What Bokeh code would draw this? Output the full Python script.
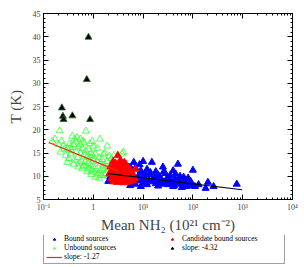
from bokeh.plotting import figure
from bokeh.layouts import column
from bokeh.models import (LinearAxis, LogAxis, FixedTicker, SingleIntervalTicker,
                          CustomJSTickFormatter, Legend, LegendItem)
from bokeh.embed import file_html
from bokeh.resources import INLINE

# ---------------- data ----------------
unbound_x = [0.15,0.17,0.21,0.71,1.37,0.38,0.42,0.47,0.55,0.62,
             0.25,0.3,0.33,0.36,0.4,0.45,0.5,0.55,0.6,0.65,
             0.7,0.75,0.8,0.85,0.9,0.95,1.0,1.1,1.2,1.3,
             1.4,1.5,1.6,1.7,1.8,1.9,2.0,2.2,2.4,2.6,
             2.8,3.0,3.3,3.6,4.0,3.8,1.9,2.1,0.28,0.32,
             0.35,0.42,0.48,0.52,0.58,0.63,0.68,0.72,0.78,0.83,
             0.88,0.93,1.0,1.05,1.15,1.25,1.35,1.45,1.3,1.1,
             0.9,0.75,0.6,0.5,0.4,0.3,0.22,0.26,0.2,0.23,
             1.0,1.2,0.85,0.95,1.6,2.3,2.6,2.0,2.5,3.2,
             0.65,0.55,0.45,0.35,1.8,1.55,1.7]
unbound_t = [17.5,18.0,19.8,19.7,18.0,18.6,18.0,18.3,18.0,17.6,
             16.5,16.0,17.0,15.5,16.8,15.2,16.3,15.0,16.0,14.6,
             15.5,14.2,15.8,13.9,15.0,14.5,13.5,14.8,13.2,14.0,
             12.8,13.6,12.4,15.0,12.0,13.2,11.6,12.5,11.2,12.0,
             10.8,11.5,10.5,11.8,15.2,14.8,16.5,14.3,14.5,13.8,
             14.8,13.5,14.0,12.8,13.2,12.3,13.0,12.0,12.8,11.6,
             12.4,11.2,12.0,10.9,11.5,10.5,11.2,10.2,9.6,9.8,
             10.4,11.0,11.6,12.0,12.6,13.0,15.2,15.8,16.8,17.6,
             16.5,16.0,17.0,17.5,14.8,13.8,14.5,10.0,9.9,9.6,
             17.2,16.8,17.4,16.2,10.6,11.6,10.3]

cand_x = [3.1,2.5,4.2,3.5,2.8,3.3,3.8,4.5,5.0,2.2,
          2.6,3.0,3.4,3.9,4.4,4.9,5.5,6.0,7.0,6.5,
          2.1,2.4,2.7,3.0,3.2,3.6,4.0,4.3,4.8,5.3,
          5.8,2.3,2.6,2.9,3.3,3.7,4.1,4.6,5.1,5.6,
          2.5,3.0,3.5,4.0,4.7,5.4,6.2,2.8,3.8,4.2,
          3.1,3.4,2.2,5.0,6.8]
cand_t = [14.5,13.2,13.0,13.5,12.8,12.5,12.2,12.6,12.0,12.0,
          11.8,11.5,11.8,11.3,11.5,11.0,11.3,10.8,11.5,10.0,
          10.5,11.0,10.5,10.0,10.8,10.3,10.7,9.8,10.2,9.6,
          10.0,9.5,9.2,9.6,9.2,9.5,9.0,9.4,9.0,9.3,
          8.8,8.7,8.8,8.6,8.7,8.8,9.0,10.0,11.0,10.0,
          9.9,9.5,10.8,10.5,9.5]

bound_x = [2.0,2.2,3.5,4.0,6.5,8.5,10,15,25,50,
           100,7,9,12,18,5.5,11,14,20,28,
           35,45,55,65,80,30,22,16,13,9.5,
           8,7.5,6.5,10,12,15,18,21,25,28,
           32,38,42,48,52,58,62,70,75,85,
           90,95,60,40,20,9,7,5.5,200,260,
           180,760,110,130,8.5,11,17,24,33,44,
           5,6,13,26,40,9,19,36,55,70]
bound_t = [8.9,9.9,13.0,12.5,13.0,12.5,13.2,13.0,12.0,12.6,
           11.3,11.8,11.2,11.5,11.0,12.0,10.5,10.8,10.3,10.6,
           10.2,10.5,10.0,9.8,9.6,9.5,9.8,9.5,9.2,9.6,
           10.0,9.2,8.8,8.5,8.2,8.8,8.4,8.9,8.3,8.6,
           8.2,8.7,8.0,8.5,9.0,8.3,8.6,8.2,7.8,8.5,
           8.9,8.0,7.6,7.8,7.9,7.8,8.3,8.0,8.7,7.8,
           7.4,8.3,7.8,8.2,9.0,9.3,9.9,9.1,9.3,9.4,
           9.3,9.9,10.3,11.0,11.2,10.8,8.6,8.9,8.6,9.2]

warm_x = [0.8, 0.74, 0.234, 0.245, 0.253, 0.38, 0.86]
warm_t = [39.9, 30.8, 24.7, 22.9, 22.2, 23.0, 22.2]

fit1_x = [0.128, 3.2]
fit1_t = [17.25, 11.1]
fit2_x = [1.98, 975]
fit2_t = [10.55, 7.1]

x_ticks = [0.1, 1, 10, 100, 1000, 10000]

labels = ["Bound sources", "Unbound sources", "slope: -1.27",
          "Candidate bound sources", "slope: -4.32"]

SERIF = "Liberation Serif"

BLUE = "#0000ff"
RED = "#ff0000"
GREEN = "#33ff33"

p = figure(frame_width=249, frame_height=186, x_axis_type="log", x_range=(0.1, 10000), y_range=(5, 45),
           output_backend="svg", toolbar_location=None,
           min_border_left=43, min_border_right=12, min_border_top=13, min_border_bottom=0)
p.grid.visible = False
p.outline_line_color = "black"
p.outline_line_width = 1

minor = [m * 10.0 ** e for e in range(-1, 4) for m in range(2, 10)]


def style_axis(ax, labels=True):
    ax.major_tick_in = 5
    ax.major_tick_out = 0
    ax.minor_tick_in = 2
    ax.minor_tick_out = 0
    ax.axis_line_color = "black"
    ax.major_tick_line_color = "black"
    ax.minor_tick_line_color = "black"
    ax.major_label_text_font = SERIF
    ax.major_label_text_font_size = "8px"
    ax.major_label_standoff = 3
    if not labels:
        ax.major_label_text_alpha = 0
        ax.major_label_text_font_size = "1px"
        ax.major_label_standoff = 0


fmt = CustomJSTickFormatter(code="""
const e = Math.round(Math.log10(tick));
const sup = {'-1':'\u207b\u00b9','1':'\u00b9','2':'\u00b2','3':'\u00b3','4':'\u2074'};
if (e === 0) return '1';
return '10' + sup[String(e)];
""")

xa = p.xaxis[0]
xa.ticker = FixedTicker(ticks=x_ticks, minor_ticks=minor)
xa.formatter = fmt
style_axis(xa)
xa.axis_label = "Mean NH\u2082 (10\u00b2\u00b9 cm\u207b\u00b2)"
xa.axis_label_text_font = SERIF
xa.axis_label_text_font_size = "15px"
xa.axis_label_text_font_style = "normal"
xa.axis_label_standoff = 2

ya = p.yaxis[0]
ya.ticker = SingleIntervalTicker(interval=5, num_minor_ticks=5)
style_axis(ya)
ya.axis_label = "T (K)"
ya.axis_label_text_font = SERIF
ya.axis_label_text_font_size = "15px"
ya.axis_label_text_font_style = "normal"
ya.axis_label_standoff = 6

ta = LogAxis(ticker=FixedTicker(ticks=x_ticks, minor_ticks=minor))
style_axis(ta, labels=False)
p.add_layout(ta, "above")
ra = LinearAxis(ticker=SingleIntervalTicker(interval=5, num_minor_ticks=5))
style_axis(ra, labels=False)
p.add_layout(ra, "right")

p.scatter(unbound_x, unbound_t, marker="triangle", size=7, fill_color=None,
          line_color=GREEN, line_width=0.8)
p.scatter(bound_x, bound_t, marker="triangle", size=7, fill_color=BLUE, line_color=BLUE)
p.scatter(cand_x, cand_t, marker="triangle", size=7, fill_color=RED, line_color=RED)
p.scatter(warm_x, warm_t, marker="triangle", size=7, fill_color="black",
          line_color="#2a6a2a", line_width=0.8)
p.line(fit1_x, fit1_t, line_color="#ff2020", line_width=1.2)
p.line(fit2_x, fit2_t, line_color="black", line_width=1.2)

# legend panel (separate small figure below the plot); its renderers reuse the
# series data, which lies outside this panel's ranges, so only the legend shows.
q = figure(width=304, height=31, x_range=(-2, -1), y_range=(-2, -1),
           x_axis_location=None, y_axis_location=None,
           output_backend="svg", toolbar_location=None,
           min_border_left=0, min_border_right=0, min_border_top=0, min_border_bottom=0)
q.grid.visible = False
q.outline_line_color = None
l_bnd = q.scatter(bound_x, bound_t, marker="triangle", size=6, fill_color=BLUE, line_color=BLUE)
l_unb = q.scatter(unbound_x, unbound_t, marker="triangle", size=6, fill_color=None,
                  line_color=GREEN, line_width=0.8)
l_fit = q.line(fit1_x, fit1_t, line_color="#ff2020", line_width=1.2)
l_cand = q.scatter(cand_x, cand_t, marker="triangle", size=6, fill_color=RED, line_color=RED)
l_warm = q.scatter(warm_x, warm_t, marker="triangle", size=6, fill_color="black", line_color="black")

legend = Legend(items=[
    LegendItem(label=labels[0], renderers=[l_bnd]),
    LegendItem(label=labels[1], renderers=[l_unb]),
    LegendItem(label=labels[2], renderers=[l_fit]),
    LegendItem(label=labels[3], renderers=[l_cand]),
    LegendItem(label=labels[4], renderers=[l_warm]),
], nrows=3, orientation="vertical")
legend.label_text_font = SERIF
legend.label_text_font_size = "7.5px"
legend.label_text_color = "black"
legend.label_text_line_height = 0.8
legend.label_height = 5
legend.glyph_height = 6
legend.glyph_width = 16
legend.label_width = 100
legend.label_standoff = 2
legend.spacing = 0
legend.padding = 2
legend.margin = 0
legend.border_line_color = "#444444"
legend.border_line_width = 1
legend.location = (0, 2)
q.add_layout(legend, "center")

open("out.html", "w").write(file_html(column(p, q, spacing=0), INLINE))
